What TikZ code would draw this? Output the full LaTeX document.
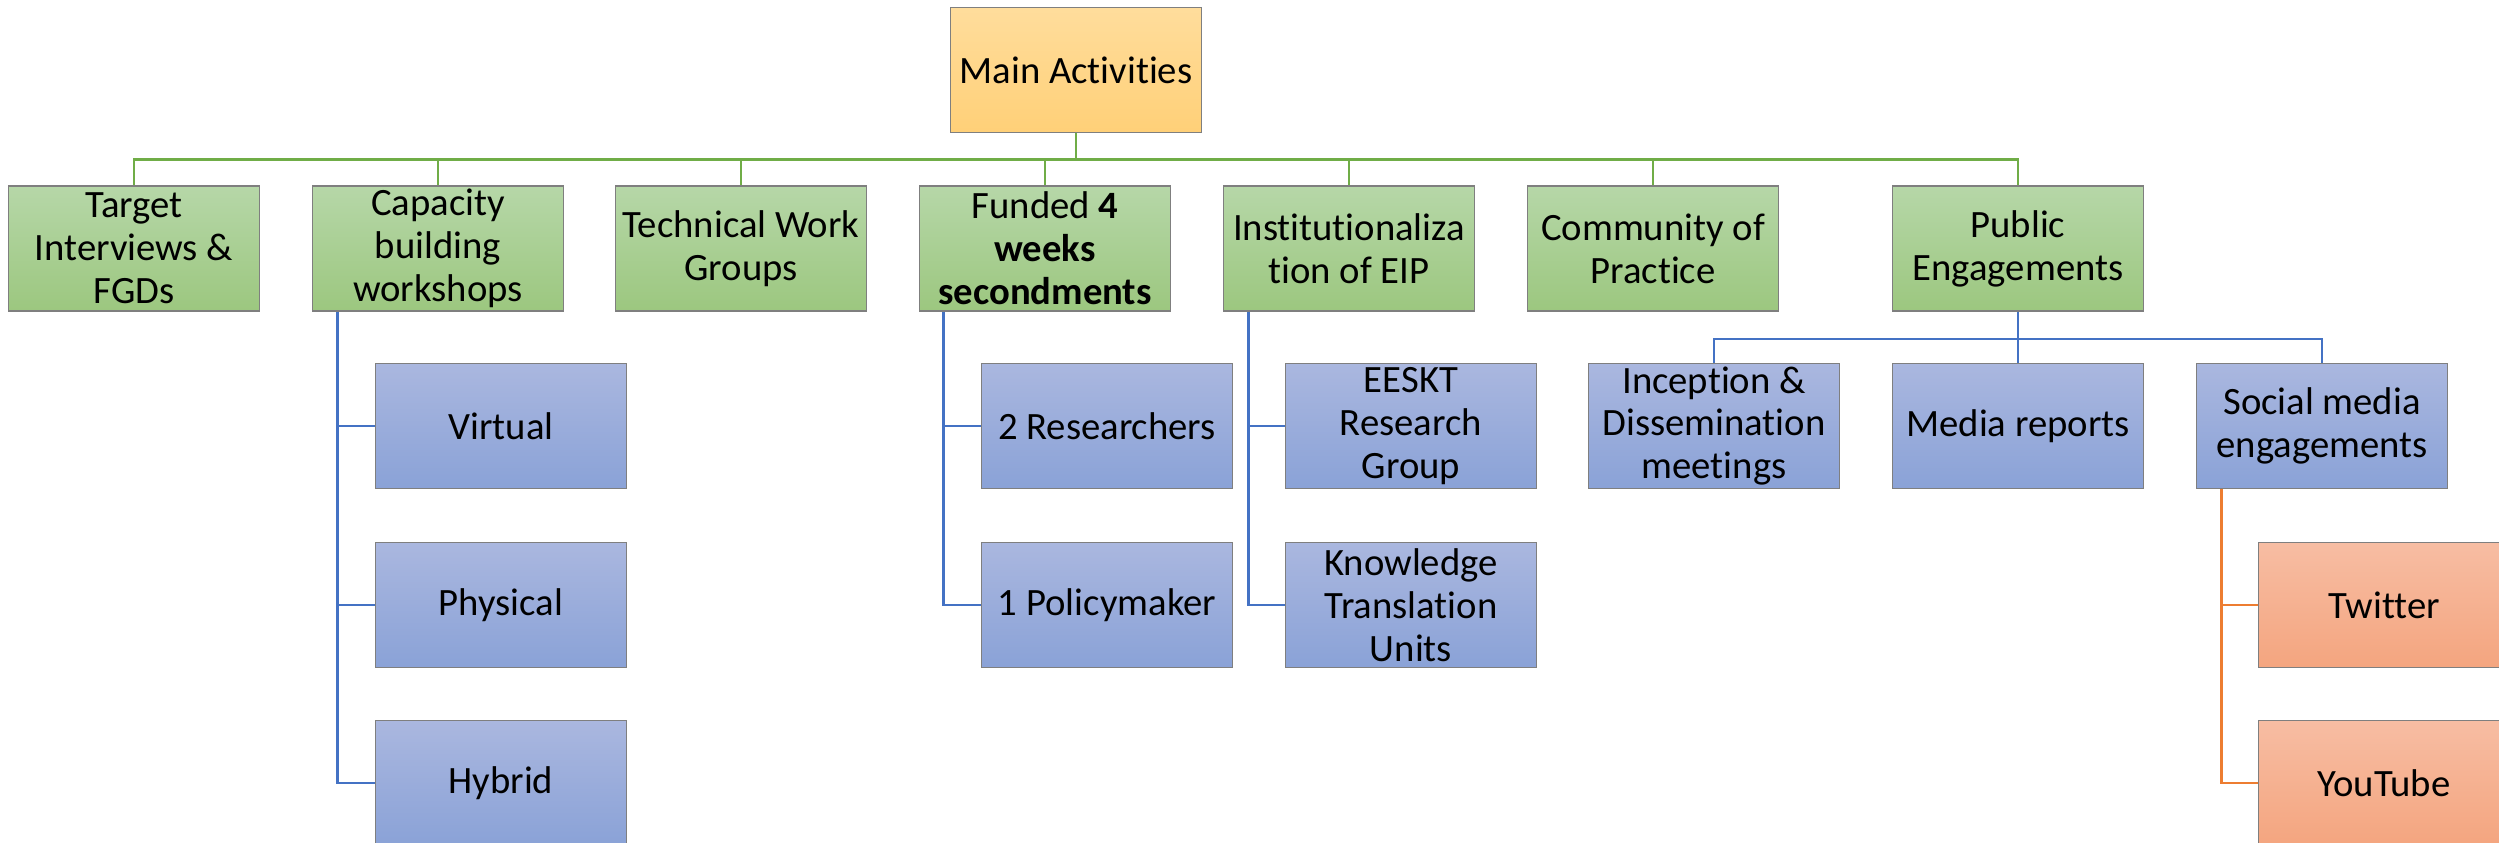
\documentclass[tikz,border=0pt]{standalone}
\usepackage{fontspec}
\setmainfont{Carlito}[Ligatures={NoCommon}]
\usepackage{tikz}

\definecolor{linkgreen}{HTML}{70AD47}
\definecolor{linkblue}{HTML}{4472C4}
\definecolor{linkorange}{HTML}{ED7D31}
\definecolor{boxedge}{HTML}{7F7F7F}

\tikzset{
    box/.style={rectangle, draw=boxedge, line width=0.5pt, minimum width=2.51cm, minimum height=1.25cm,
                inner sep=0pt, align=center, font=\fontsize{11}{12.2}\selectfont},
    mainbox/.style={box, top color={rgb,255:red,255;green,221;blue,156}, bottom color={rgb,255:red,255;green,208;blue,120}},
    greenbox/.style={box, top color={rgb,255:red,182;green,215;blue,168}, bottom color={rgb,255:red,156;green,199;blue,127}},
    bluebox/.style={box, top color={rgb,255:red,170;green,183;blue,223}, bottom color={rgb,255:red,138;green,162;blue,215}},
    orangebox/.style={box, top color={rgb,255:red,247;green,189;blue,163}, bottom color={rgb,255:red,244;green,165;blue,127}},
    greenlink/.style={draw=linkgreen, line width=0.8pt},
    bluelink/.style={draw=linkblue, line width=0.75pt},
    orangelink/.style={draw=linkorange, line width=0.75pt}
}

\begin{document}
\begin{tikzpicture}[x=0.01cm, y=-0.01cm]
    \useasboundingbox (0,0) rectangle (2499,843);

    \node[mainbox] (main) at (1076,70) {Main Activities};

    \node[greenbox] (target) at (134,248.5)  {Target\\Interviews \&\\FGDs};
    \node[greenbox] (cap)    at (438,248.5)  {Capacity\\building\\workshops};
    \node[greenbox] (tech)   at (741,248.5)  {Technical Work\\Groups};
    \node[greenbox] (funded) at (1045,248.5) {Funded \textbf{4}\\\textbf{weeks}\\\textbf{secondments}};
    \node[greenbox] (inst)   at (1349,248.5) {Institutionaliza\\tion of EIP};
    \node[greenbox] (comm)   at (1653,248.5) {Community of\\Practice};
    \node[greenbox] (pub)    at (2018,248.5) {Public\\Engagements};

    \node[bluebox] (virtual)  at (501,426) {Virtual};
    \node[bluebox] (physical) at (501,605) {Physical};
    \node[bluebox] (hybrid)   at (501,783) {Hybrid};

    \node[bluebox] (research) at (1107,426) {2 Researchers};
    \node[bluebox] (policy)   at (1107,605) {1 Policymaker};

    \node[bluebox] (eeskt) at (1411,426) {EESKT\\Research\\Group};
    \node[bluebox] (ktu)   at (1411,605) {Knowledge\\Translation\\Units};

    \node[bluebox] (incep)  at (1714,426) {Inception \&\\Dissemination\\meetings};
    \node[bluebox] (media)  at (2018,426) {Media reports};
    \node[bluebox] (social) at (2322,426) {Social media\\engagements};

    \node[orangebox] (twitter) at (2384,605) {Twitter};
    \node[orangebox] (youtube) at (2384,783) {YouTube};

    % level one
    \foreach \n in {target,cap,tech,funded,inst,comm,pub}
        \draw[greenlink] (main.south) -- ++(0,-0.26cm) -| (\n.north);

    % level two
    \foreach \n in {virtual,physical,hybrid}
        \draw[bluelink] ([xshift=0.26cm]cap.south west) |- (\n.west);
    \foreach \n in {research,policy}
        \draw[bluelink] ([xshift=0.25cm]funded.south west) |- (\n.west);
    \foreach \n in {eeskt,ktu}
        \draw[bluelink] ([xshift=0.26cm]inst.south west) |- (\n.west);
    \foreach \n in {incep,media,social}
        \draw[bluelink] (pub.south) -- ++(0,-0.27cm) -| (\n.north);

    % level three
    \foreach \n in {twitter,youtube}
        \draw[orangelink] ([xshift=0.26cm]social.south west) |- (\n.west);
\end{tikzpicture}
\end{document}
